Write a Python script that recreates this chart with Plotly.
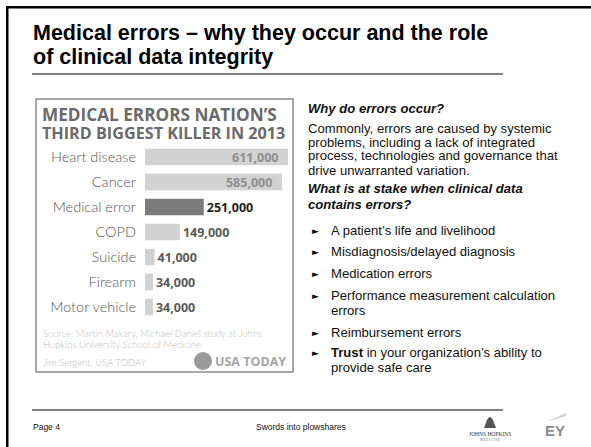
import plotly.graph_objects as go

# ---------------- data ----------------
causes = ["Heart disease", "Cancer", "Medical error", "COPD", "Suicide", "Firearm", "Motor vehicle"]
deaths = [611000, 585000, 251000, 149000, 41000, 34000, 34000]
label_inside = [True, True, False, False, False, False, False]
highlight = "Medical error"

slide_title = ["Medical errors \u2013 why they occur and the role", "of clinical data integrity"]
chart_title = ["MEDICAL ERRORS NATION\u2019S", "THIRD BIGGEST KILLER IN 2013"]
source_lines = ["Source: Martin Makary, Michael Daniel study at Johns",
                "Hopkins University School of Medicine"]
credit = "Jim Sergent, USA TODAY"

why_heading = "Why do errors occur?"
why_lines = ["Commonly, errors are caused by systemic",
             "problems, including a lack of integrated",
             "process, technologies and governance that",
             "drive unwarranted variation."]
stake_heading = ["What is at stake when clinical data", "contains errors?"]
bullets = [["A patient\u2019s life and livelihood"],
           ["Misdiagnosis/delayed diagnosis"],
           ["Medication errors"],
           ["Performance measurement calculation", "errors"],
           ["Reimbursement errors"],
           ["<b>Trust</b> in your organization\u2019s ability to", "provide safe care"]]
footer_left = "Page 4"
footer_center = "Swords into plowshares"

# ---------------- helpers ----------------
W, H = 591, 447


def X(px):
    return px / W


def Y(py):
    return 1 - py / H


ann = []
shapes = []


def text(x, y, s, size, color="#111", family="Liberation Sans, Arial", xanchor="left", weight=None):
    f = dict(size=size, color=color, family=family)
    if weight is not None:
        f["weight"] = weight
    ann.append(dict(x=X(x), y=Y(y), xref="paper", yref="paper", text=s, showarrow=False,
                    xanchor=xanchor, yanchor="middle", font=f, borderpad=0))


# ---------------- bar chart ----------------
bar_colors = ["#7b7b7b" if c == highlight else "#d2d2d2" for c in causes]
txt_colors = []
for c, ins in zip(causes, label_inside):
    if ins:
        txt_colors.append("#8e8e8e")
    elif c == highlight:
        txt_colors.append("#1e1e1e")
    else:
        txt_colors.append("#5a5a5a")
labels = [f"{v:,}" + ("&nbsp;&nbsp;" if ins else "") for v, ins in zip(deaths, label_inside)]

fig = go.Figure(go.Bar(
    y=causes, x=deaths, orientation="h",
    marker=dict(color=bar_colors, line=dict(width=0)),
    text=labels,
    textposition=["inside" if i else "outside" for i in label_inside],
    insidetextanchor="end",
    constraintext="none",
    cliponaxis=False,
    textfont=dict(family="Open Sans, Arial", size=12.5, color=txt_colors, weight=700),
    hoverinfo="skip",
))

# ---------------- slide frame ----------------
shapes.append(dict(type="rect", xref="paper", yref="paper", x0=X(6), x1=X(8.5), y0=Y(447), y1=Y(6),
                   line=dict(width=0), fillcolor="#000"))
shapes.append(dict(type="rect", xref="paper", yref="paper", x0=X(6), x1=X(591), y0=Y(8.5), y1=Y(6),
                   line=dict(width=0), fillcolor="#000"))
# title underline & footer line
shapes.append(dict(type="line", xref="paper", yref="paper", x0=X(32), x1=X(503), y0=Y(74), y1=Y(74),
                   line=dict(color="#000", width=1.2)))
shapes.append(dict(type="line", xref="paper", yref="paper", x0=X(32), x1=X(503), y0=Y(410), y1=Y(410),
                   line=dict(color="#000", width=1.2)))
# chart box
shapes.append(dict(type="rect", xref="paper", yref="paper", x0=X(36), x1=X(293), y0=Y(372), y1=Y(99),
                   line=dict(color="#8c8c8c", width=1.5), fillcolor="rgba(0,0,0,0)"))

# slide title
text(32, 33, f"<b>{slide_title[0]}</b>", 21.5, "#000")
text(32, 57, f"<b>{slide_title[1]}</b>", 21.5, "#000")

# chart title
text(41, 114, f"<b>{chart_title[0]}</b>", 17.2, "#6a6a6a", family="Open Sans, Arial", weight=800)
text(41, 133, f"<b>{chart_title[1]}</b>", 16.2, "#6a6a6a", family="Open Sans, Arial", weight=800)

# source / credit
text(42, 333, source_lines[0], 9.5, "#bdbdbd", family="Lato, Arial", weight=300)
text(42, 344, source_lines[1], 9.5, "#bdbdbd", family="Lato, Arial", weight=300)
text(42, 362, credit, 9.5, "#bdbdbd", family="Lato, Arial", weight=300)

# USA TODAY logo
shapes.append(dict(type="circle", xref="paper", yref="paper", x0=X(194), x1=X(212), y0=Y(370), y1=Y(352),
                   line=dict(width=0), fillcolor="#9a9a9a"))
text(214, 361, "<b>USA TODAY</b>", 12.5, "#a5a5a5", family="Open Sans, Arial", weight=800)

# right column
FS = 13.1
text(307, 108, f"<b><i>{why_heading}</i></b>", FS, "#111")
for i, ln in enumerate(why_lines):
    text(307, 128 + 14 * i, ln, FS, "#111")
text(307, 189, f"<b><i>{stake_heading[0]}</i></b>", FS, "#111")
text(307, 204, f"<b><i>{stake_heading[1]}</i></b>", FS, "#111")

bullet_y = [230, 251, 273, 295, 332, 352]
for by, item in zip(bullet_y, bullets):
    text(311, by + 1, "\u25BA", 9, "#111", family="DejaVu Sans")
    for j, ln in enumerate(item):
        text(330, by + 15.5 * j, ln, FS, "#111")

# footer
text(32, 427, footer_left, 8.5, "#111")
text(301, 427, footer_center, 8.5, "#111", xanchor="center")

# Johns Hopkins logo
shapes.append(dict(type="path", xref="paper", yref="paper",
                   path=f"M {X(484)} {Y(428)} L {X(487)} {Y(420)} Q {X(490)} {Y(414)} {X(493)} {Y(420)} "
                        f"L {X(496)} {Y(428)} Z",
                   line=dict(width=0), fillcolor="#555"))
text(490, 434, "JOHNS HOPKINS", 5.5, "#333", family="Liberation Serif, serif", xanchor="center")
text(490, 440, "M E D I C I N E", 3, "#666", family="Liberation Serif, serif", xanchor="center")

# EY logo
shapes.append(dict(type="path", xref="paper", yref="paper",
                   path=f"M {X(546)} {Y(422)} L {X(566)} {Y(413)} L {X(566)} {Y(416)} Z",
                   line=dict(width=0), fillcolor="#cfcfcf"))
text(544, 430, "<b>EY</b>", 15, "#8a8a8a", family="Liberation Sans, Arial")

fig.update_layout(
    width=W, height=H,
    margin=dict(l=0, r=0, t=0, b=0),
    paper_bgcolor="white", plot_bgcolor="white",
    showlegend=False,
    bargap=0.34,
    xaxis=dict(domain=[X(145), X(288)], range=[0, max(deaths)], visible=False, fixedrange=True),
    yaxis=dict(domain=[Y(319.5), Y(144.5)], autorange="reversed", showgrid=False, zeroline=False,
               showline=False, ticks="", ticklabelstandoff=8,
               tickfont=dict(family="Lato, Arial", size=14.5, color="#555", weight=300), fixedrange=True),
    annotations=ann,
    shapes=shapes,
)

fig.write_html("out.html", config={"displayModeBar": False},
               post_script="document.body.style.margin='0px';")
